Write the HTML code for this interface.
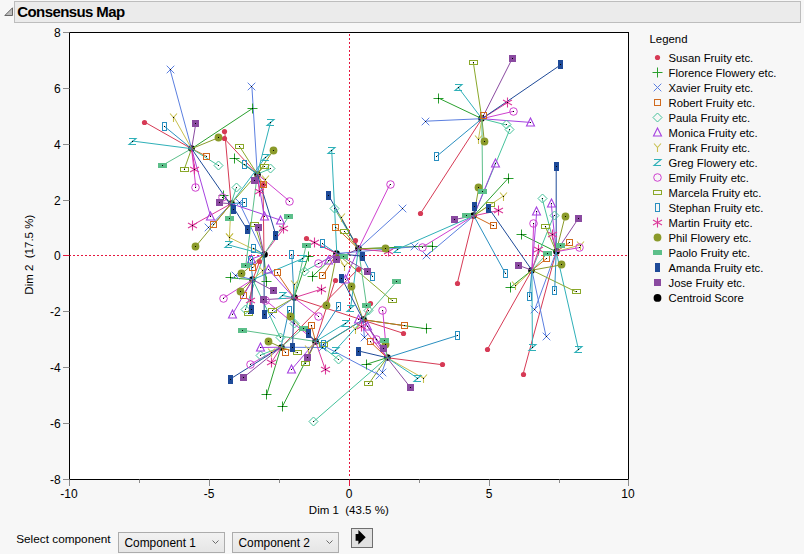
<!DOCTYPE html><html><head><meta charset="utf-8"><style>html,body{margin:0;padding:0;background:#f7f7f7;width:804px;height:554px;overflow:hidden}svg{display:block}text{font-family:"Liberation Sans",sans-serif}</style></head><body><svg width="804" height="554" viewBox="0 0 804 554"><rect width="804" height="554" fill="#f7f7f7"/><rect x="14.5" y="1.5" width="786" height="21" fill="#ebebeb" stroke="#bdbdbd" stroke-width="1"/><path d="M4.8 15.5L12.5 7.8V15.5Z" fill="#bdbdbd" stroke="#5a5a5a" stroke-width="0.9"/><text x="17.3" y="16.8" font-size="15" font-weight="bold" letter-spacing="-0.6" fill="#000">Consensus Map</text><rect x="69.5" y="32.5" width="559.0" height="447.0" fill="#fff"/><line x1="349.5" y1="34" x2="349.5" y2="478" stroke="#e5173f" stroke-width="1" stroke-dasharray="2,2"/><line x1="69" y1="255.5" x2="628" y2="255.5" stroke="#e5173f" stroke-width="1" stroke-dasharray="2,2"/><circle cx="191.5" cy="148.5" r="3.3" fill="#000"/><circle cx="257.5" cy="174.5" r="3.3" fill="#000"/><circle cx="231.5" cy="203.5" r="3.3" fill="#000"/><circle cx="264.5" cy="254.5" r="3.3" fill="#000"/><circle cx="252.5" cy="279.5" r="3.3" fill="#000"/><circle cx="294.5" cy="297.5" r="3.3" fill="#000"/><circle cx="336.5" cy="253.5" r="3.3" fill="#000"/><circle cx="358.5" cy="248.5" r="3.3" fill="#000"/><circle cx="363.5" cy="319.5" r="3.3" fill="#000"/><circle cx="315.5" cy="341.5" r="3.3" fill="#000"/><circle cx="281.5" cy="347.5" r="3.3" fill="#000"/><circle cx="387.5" cy="357.5" r="3.3" fill="#000"/><circle cx="481.5" cy="118.5" r="3.3" fill="#000"/><circle cx="473.5" cy="215.5" r="3.3" fill="#000"/><circle cx="531.5" cy="270.5" r="3.3" fill="#000"/><circle cx="556.5" cy="251.5" r="3.3" fill="#000"/><g><line x1="224.7" y1="138.9" x2="257.3" y2="174.1" stroke="#d63a55" stroke-width="1"/><line x1="224.7" y1="131.2" x2="231.1" y2="203.7" stroke="#d63a55" stroke-width="1"/><line x1="263.0" y1="184.2" x2="264.0" y2="254.4" stroke="#d63a55" stroke-width="1"/><line x1="403.0" y1="333.2" x2="294.0" y2="297.8" stroke="#d63a55" stroke-width="1"/><line x1="370.3" y1="303.1" x2="363.1" y2="319.7" stroke="#d63a55" stroke-width="1"/><line x1="335.2" y1="280.3" x2="315.6" y2="341.5" stroke="#d63a55" stroke-width="1"/><line x1="306.4" y1="238.8" x2="336.8" y2="253.5" stroke="#d63a55" stroke-width="1"/><line x1="358.1" y1="269.0" x2="281.0" y2="347.2" stroke="#d63a55" stroke-width="1"/><line x1="355.0" y1="240.5" x2="358.4" y2="248.8" stroke="#d63a55" stroke-width="1"/><line x1="259.7" y1="261.4" x2="252.7" y2="279.6" stroke="#d63a55" stroke-width="1"/><line x1="144.7" y1="122.1" x2="191.6" y2="148.7" stroke="#d63a55" stroke-width="1"/><line x1="442.9" y1="364.8" x2="387.0" y2="357.7" stroke="#d63a55" stroke-width="1"/><line x1="420.4" y1="213.6" x2="481.9" y2="118.7" stroke="#d63a55" stroke-width="1"/><line x1="457.3" y1="283.2" x2="473.8" y2="215.8" stroke="#d63a55" stroke-width="1"/><line x1="487.5" y1="349.2" x2="531.9" y2="270.2" stroke="#d63a55" stroke-width="1"/><line x1="523.1" y1="374.1" x2="556.2" y2="251.7" stroke="#d63a55" stroke-width="1"/><line x1="432.4" y1="246.0" x2="358.4" y2="248.8" stroke="#2aa02e" stroke-width="1"/><line x1="508.1" y1="178.4" x2="473.8" y2="215.8" stroke="#2aa02e" stroke-width="1"/><line x1="308.4" y1="256.0" x2="294.0" y2="297.8" stroke="#2aa02e" stroke-width="1"/><line x1="426.3" y1="328.8" x2="363.1" y2="319.7" stroke="#2aa02e" stroke-width="1"/><line x1="366.1" y1="364.4" x2="387.0" y2="357.7" stroke="#2aa02e" stroke-width="1"/><line x1="252.7" y1="108.3" x2="191.6" y2="148.7" stroke="#2aa02e" stroke-width="1"/><line x1="234.9" y1="158.2" x2="257.3" y2="174.1" stroke="#2aa02e" stroke-width="1"/><line x1="223.7" y1="195.6" x2="231.1" y2="203.7" stroke="#2aa02e" stroke-width="1"/><line x1="230.4" y1="277.9" x2="252.7" y2="279.6" stroke="#2aa02e" stroke-width="1"/><line x1="266.1" y1="281.1" x2="264.0" y2="254.4" stroke="#2aa02e" stroke-width="1"/><line x1="312.5" y1="276.3" x2="336.8" y2="253.5" stroke="#2aa02e" stroke-width="1"/><line x1="266.9" y1="394.2" x2="281.0" y2="347.2" stroke="#2aa02e" stroke-width="1"/><line x1="282.5" y1="406.4" x2="315.6" y2="341.5" stroke="#2aa02e" stroke-width="1"/><line x1="438.3" y1="98.0" x2="481.9" y2="118.7" stroke="#2aa02e" stroke-width="1"/><line x1="521.3" y1="234.4" x2="556.2" y2="251.7" stroke="#2aa02e" stroke-width="1"/><line x1="510.3" y1="287.5" x2="531.9" y2="270.2" stroke="#2aa02e" stroke-width="1"/><line x1="208.4" y1="227.6" x2="231.1" y2="203.7" stroke="#5b7fe0" stroke-width="1"/><line x1="239.2" y1="202.7" x2="264.0" y2="254.4" stroke="#5b7fe0" stroke-width="1"/><line x1="402.8" y1="208.5" x2="358.4" y2="248.8" stroke="#5b7fe0" stroke-width="1"/><line x1="379.4" y1="375.2" x2="315.6" y2="341.5" stroke="#5b7fe0" stroke-width="1"/><line x1="382.1" y1="372.0" x2="387.0" y2="357.7" stroke="#5b7fe0" stroke-width="1"/><line x1="364.3" y1="337.0" x2="363.1" y2="319.7" stroke="#5b7fe0" stroke-width="1"/><line x1="322.0" y1="347.5" x2="281.0" y2="347.2" stroke="#5b7fe0" stroke-width="1"/><line x1="170.0" y1="69.3" x2="191.6" y2="148.7" stroke="#5b7fe0" stroke-width="1"/><line x1="251.9" y1="86.7" x2="257.3" y2="174.1" stroke="#5b7fe0" stroke-width="1"/><line x1="235.6" y1="275.3" x2="252.7" y2="279.6" stroke="#5b7fe0" stroke-width="1"/><line x1="271.2" y1="314.0" x2="294.0" y2="297.8" stroke="#5b7fe0" stroke-width="1"/><line x1="414.7" y1="246.7" x2="336.8" y2="253.5" stroke="#5b7fe0" stroke-width="1"/><line x1="426.4" y1="255.8" x2="473.8" y2="215.8" stroke="#5b7fe0" stroke-width="1"/><line x1="425.5" y1="121.2" x2="481.9" y2="118.7" stroke="#5b7fe0" stroke-width="1"/><line x1="534.7" y1="309.8" x2="556.2" y2="251.7" stroke="#5b7fe0" stroke-width="1"/><line x1="546.1" y1="336.6" x2="531.9" y2="270.2" stroke="#5b7fe0" stroke-width="1"/><line x1="404.4" y1="325.7" x2="363.1" y2="319.7" stroke="#d06a1e" stroke-width="1"/><line x1="370.2" y1="341.8" x2="387.0" y2="357.7" stroke="#d06a1e" stroke-width="1"/><line x1="206.8" y1="156.4" x2="191.6" y2="148.7" stroke="#d06a1e" stroke-width="1"/><line x1="213.6" y1="224.6" x2="231.1" y2="203.7" stroke="#d06a1e" stroke-width="1"/><line x1="263.0" y1="184.2" x2="257.3" y2="174.1" stroke="#d06a1e" stroke-width="1"/><line x1="335.6" y1="227.0" x2="358.4" y2="248.8" stroke="#d06a1e" stroke-width="1"/><line x1="252.8" y1="267.9" x2="264.0" y2="254.4" stroke="#d06a1e" stroke-width="1"/><line x1="277.1" y1="272.8" x2="294.0" y2="297.8" stroke="#d06a1e" stroke-width="1"/><line x1="243.0" y1="295.1" x2="252.7" y2="279.6" stroke="#d06a1e" stroke-width="1"/><line x1="322.9" y1="275.7" x2="336.8" y2="253.5" stroke="#d06a1e" stroke-width="1"/><line x1="311.3" y1="325.4" x2="315.6" y2="341.5" stroke="#d06a1e" stroke-width="1"/><line x1="285.5" y1="352.2" x2="281.0" y2="347.2" stroke="#d06a1e" stroke-width="1"/><line x1="483.0" y1="115.2" x2="481.9" y2="118.7" stroke="#d06a1e" stroke-width="1"/><line x1="493.3" y1="225.8" x2="473.8" y2="215.8" stroke="#d06a1e" stroke-width="1"/><line x1="569.7" y1="242.5" x2="556.2" y2="251.7" stroke="#d06a1e" stroke-width="1"/><line x1="546.7" y1="258.4" x2="531.9" y2="270.2" stroke="#d06a1e" stroke-width="1"/><line x1="313.5" y1="421.7" x2="387.0" y2="357.7" stroke="#45c29b" stroke-width="1"/><line x1="338.6" y1="359.6" x2="315.6" y2="341.5" stroke="#45c29b" stroke-width="1"/><line x1="218.8" y1="165.7" x2="191.6" y2="148.7" stroke="#45c29b" stroke-width="1"/><line x1="270.1" y1="168.8" x2="257.3" y2="174.1" stroke="#45c29b" stroke-width="1"/><line x1="236.2" y1="187.9" x2="231.1" y2="203.7" stroke="#45c29b" stroke-width="1"/><line x1="334.7" y1="208.8" x2="358.4" y2="248.8" stroke="#45c29b" stroke-width="1"/><line x1="245.5" y1="309.4" x2="264.0" y2="254.4" stroke="#45c29b" stroke-width="1"/><line x1="280.4" y1="337.9" x2="252.7" y2="279.6" stroke="#45c29b" stroke-width="1"/><line x1="294.4" y1="323.3" x2="294.0" y2="297.8" stroke="#45c29b" stroke-width="1"/><line x1="260.3" y1="355.1" x2="281.0" y2="347.2" stroke="#45c29b" stroke-width="1"/><line x1="304.4" y1="271.3" x2="336.8" y2="253.5" stroke="#45c29b" stroke-width="1"/><line x1="368.6" y1="310.8" x2="363.1" y2="319.7" stroke="#45c29b" stroke-width="1"/><line x1="506.1" y1="124.9" x2="481.9" y2="118.7" stroke="#45c29b" stroke-width="1"/><line x1="509.9" y1="129.2" x2="473.8" y2="215.8" stroke="#45c29b" stroke-width="1"/><line x1="542.0" y1="198.0" x2="556.2" y2="251.7" stroke="#45c29b" stroke-width="1"/><line x1="554.0" y1="215.3" x2="531.9" y2="270.2" stroke="#45c29b" stroke-width="1"/><line x1="280.5" y1="220.1" x2="231.1" y2="203.7" stroke="#a642e0" stroke-width="1"/><line x1="210.7" y1="216.8" x2="191.6" y2="148.7" stroke="#a642e0" stroke-width="1"/><line x1="268.5" y1="269.5" x2="294.0" y2="297.8" stroke="#a642e0" stroke-width="1"/><line x1="264.2" y1="216.1" x2="257.3" y2="174.1" stroke="#a642e0" stroke-width="1"/><line x1="251.5" y1="259.0" x2="264.0" y2="254.4" stroke="#a642e0" stroke-width="1"/><line x1="328.7" y1="260.7" x2="336.8" y2="253.5" stroke="#a642e0" stroke-width="1"/><line x1="345.6" y1="279.0" x2="358.4" y2="248.8" stroke="#a642e0" stroke-width="1"/><line x1="232.6" y1="314.1" x2="252.7" y2="279.6" stroke="#a642e0" stroke-width="1"/><line x1="260.4" y1="347.5" x2="281.0" y2="347.2" stroke="#a642e0" stroke-width="1"/><line x1="291.9" y1="369.1" x2="315.6" y2="341.5" stroke="#a642e0" stroke-width="1"/><line x1="358.5" y1="319.4" x2="363.1" y2="319.7" stroke="#a642e0" stroke-width="1"/><line x1="367.9" y1="326.7" x2="387.0" y2="357.7" stroke="#a642e0" stroke-width="1"/><line x1="495.0" y1="163.7" x2="473.8" y2="215.8" stroke="#a642e0" stroke-width="1"/><line x1="530.2" y1="122.4" x2="481.9" y2="118.7" stroke="#a642e0" stroke-width="1"/><line x1="536.8" y1="211.0" x2="531.9" y2="270.2" stroke="#a642e0" stroke-width="1"/><line x1="551.2" y1="203.5" x2="556.2" y2="251.7" stroke="#a642e0" stroke-width="1"/><line x1="271.2" y1="352.0" x2="281.0" y2="347.2" stroke="#c8c050" stroke-width="1"/><line x1="229.6" y1="237.6" x2="264.0" y2="254.4" stroke="#c8c050" stroke-width="1"/><line x1="229.4" y1="237.0" x2="231.1" y2="203.7" stroke="#c8c050" stroke-width="1"/><line x1="173.9" y1="117.2" x2="191.6" y2="148.7" stroke="#c8c050" stroke-width="1"/><line x1="265.0" y1="179.8" x2="257.3" y2="174.1" stroke="#c8c050" stroke-width="1"/><line x1="262.7" y1="270.8" x2="252.7" y2="279.6" stroke="#c8c050" stroke-width="1"/><line x1="341.2" y1="217.2" x2="358.4" y2="248.8" stroke="#c8c050" stroke-width="1"/><line x1="344.1" y1="266.0" x2="336.8" y2="253.5" stroke="#c8c050" stroke-width="1"/><line x1="294.2" y1="284.8" x2="294.0" y2="297.8" stroke="#c8c050" stroke-width="1"/><line x1="308.7" y1="349.4" x2="315.6" y2="341.5" stroke="#c8c050" stroke-width="1"/><line x1="355.3" y1="329.5" x2="363.1" y2="319.7" stroke="#c8c050" stroke-width="1"/><line x1="423.4" y1="378.2" x2="387.0" y2="357.7" stroke="#c8c050" stroke-width="1"/><line x1="478.4" y1="139.3" x2="481.9" y2="118.7" stroke="#c8c050" stroke-width="1"/><line x1="503.4" y1="196.0" x2="473.8" y2="215.8" stroke="#c8c050" stroke-width="1"/><line x1="515.7" y1="285.9" x2="531.9" y2="270.2" stroke="#c8c050" stroke-width="1"/><line x1="580.0" y1="245.0" x2="556.2" y2="251.7" stroke="#c8c050" stroke-width="1"/><line x1="228.0" y1="244.8" x2="264.0" y2="254.4" stroke="#2fb0b8" stroke-width="1"/><line x1="335.2" y1="350.5" x2="363.1" y2="319.7" stroke="#2fb0b8" stroke-width="1"/><line x1="397.1" y1="249.4" x2="473.8" y2="215.8" stroke="#2fb0b8" stroke-width="1"/><line x1="282.0" y1="295.4" x2="294.0" y2="297.8" stroke="#2fb0b8" stroke-width="1"/><line x1="331.7" y1="150.0" x2="336.8" y2="253.5" stroke="#2fb0b8" stroke-width="1"/><line x1="132.2" y1="141.0" x2="191.6" y2="148.7" stroke="#2fb0b8" stroke-width="1"/><line x1="270.6" y1="122.1" x2="257.3" y2="174.1" stroke="#2fb0b8" stroke-width="1"/><line x1="265.2" y1="157.7" x2="231.1" y2="203.7" stroke="#2fb0b8" stroke-width="1"/><line x1="302.3" y1="258.7" x2="252.7" y2="279.6" stroke="#2fb0b8" stroke-width="1"/><line x1="350.6" y1="308.0" x2="358.4" y2="248.8" stroke="#2fb0b8" stroke-width="1"/><line x1="345.2" y1="323.4" x2="315.6" y2="341.5" stroke="#2fb0b8" stroke-width="1"/><line x1="417.8" y1="378.4" x2="387.0" y2="357.7" stroke="#2fb0b8" stroke-width="1"/><line x1="458.2" y1="87.4" x2="481.9" y2="118.7" stroke="#2fb0b8" stroke-width="1"/><line x1="532.4" y1="347.2" x2="531.9" y2="270.2" stroke="#2fb0b8" stroke-width="1"/><line x1="578.5" y1="349.6" x2="556.2" y2="251.7" stroke="#2fb0b8" stroke-width="1"/><line x1="318.2" y1="316.0" x2="294.0" y2="297.8" stroke="#cf40cf" stroke-width="1"/><line x1="382.7" y1="310.1" x2="387.0" y2="357.7" stroke="#cf40cf" stroke-width="1"/><line x1="376.3" y1="339.0" x2="363.1" y2="319.7" stroke="#cf40cf" stroke-width="1"/><line x1="265.8" y1="300.5" x2="315.6" y2="341.5" stroke="#cf40cf" stroke-width="1"/><line x1="195.8" y1="187.4" x2="191.6" y2="148.7" stroke="#cf40cf" stroke-width="1"/><line x1="222.8" y1="197.0" x2="231.1" y2="203.7" stroke="#cf40cf" stroke-width="1"/><line x1="289.4" y1="201.1" x2="257.3" y2="174.1" stroke="#cf40cf" stroke-width="1"/><line x1="390.0" y1="184.2" x2="358.4" y2="248.8" stroke="#cf40cf" stroke-width="1"/><line x1="318.8" y1="263.8" x2="336.8" y2="253.5" stroke="#cf40cf" stroke-width="1"/><line x1="223.1" y1="298.2" x2="252.7" y2="279.6" stroke="#cf40cf" stroke-width="1"/><line x1="250.3" y1="364.3" x2="281.0" y2="347.2" stroke="#cf40cf" stroke-width="1"/><line x1="422.4" y1="247.1" x2="473.8" y2="215.8" stroke="#cf40cf" stroke-width="1"/><line x1="513.6" y1="111.3" x2="481.9" y2="118.7" stroke="#cf40cf" stroke-width="1"/><line x1="533.7" y1="223.0" x2="531.9" y2="270.2" stroke="#cf40cf" stroke-width="1"/><line x1="579.2" y1="247.6" x2="556.2" y2="251.7" stroke="#cf40cf" stroke-width="1"/><line x1="239.7" y1="146.6" x2="257.3" y2="174.1" stroke="#8aa82a" stroke-width="1"/><line x1="264.3" y1="166.0" x2="231.1" y2="203.7" stroke="#8aa82a" stroke-width="1"/><line x1="392.2" y1="300.6" x2="336.8" y2="253.5" stroke="#8aa82a" stroke-width="1"/><line x1="184.3" y1="169.2" x2="191.6" y2="148.7" stroke="#8aa82a" stroke-width="1"/><line x1="254.7" y1="224.4" x2="264.0" y2="254.4" stroke="#8aa82a" stroke-width="1"/><line x1="344.8" y1="231.8" x2="358.4" y2="248.8" stroke="#8aa82a" stroke-width="1"/><line x1="248.9" y1="313.3" x2="252.7" y2="279.6" stroke="#8aa82a" stroke-width="1"/><line x1="272.7" y1="310.1" x2="294.0" y2="297.8" stroke="#8aa82a" stroke-width="1"/><line x1="297.3" y1="352.7" x2="281.0" y2="347.2" stroke="#8aa82a" stroke-width="1"/><line x1="305.5" y1="363.0" x2="315.6" y2="341.5" stroke="#8aa82a" stroke-width="1"/><line x1="323.2" y1="344.6" x2="363.1" y2="319.7" stroke="#8aa82a" stroke-width="1"/><line x1="368.8" y1="383.8" x2="387.0" y2="357.7" stroke="#8aa82a" stroke-width="1"/><line x1="473.3" y1="62.4" x2="481.9" y2="118.7" stroke="#8aa82a" stroke-width="1"/><line x1="490.6" y1="204.2" x2="473.8" y2="215.8" stroke="#8aa82a" stroke-width="1"/><line x1="545.3" y1="226.5" x2="556.2" y2="251.7" stroke="#8aa82a" stroke-width="1"/><line x1="576.1" y1="291.9" x2="531.9" y2="270.2" stroke="#8aa82a" stroke-width="1"/><line x1="291.8" y1="254.2" x2="294.0" y2="297.8" stroke="#2a8fc0" stroke-width="1"/><line x1="338.6" y1="306.2" x2="315.6" y2="341.5" stroke="#2a8fc0" stroke-width="1"/><line x1="164.6" y1="126.5" x2="191.6" y2="148.7" stroke="#2a8fc0" stroke-width="1"/><line x1="244.9" y1="164.6" x2="257.3" y2="174.1" stroke="#2a8fc0" stroke-width="1"/><line x1="244.2" y1="202.5" x2="231.1" y2="203.7" stroke="#2a8fc0" stroke-width="1"/><line x1="253.3" y1="248.0" x2="264.0" y2="254.4" stroke="#2a8fc0" stroke-width="1"/><line x1="322.4" y1="243.9" x2="336.8" y2="253.5" stroke="#2a8fc0" stroke-width="1"/><line x1="372.7" y1="276.8" x2="358.4" y2="248.8" stroke="#2a8fc0" stroke-width="1"/><line x1="289.0" y1="310.0" x2="281.0" y2="347.2" stroke="#2a8fc0" stroke-width="1"/><line x1="323.3" y1="344.0" x2="363.1" y2="319.7" stroke="#2a8fc0" stroke-width="1"/><line x1="457.8" y1="335.4" x2="387.0" y2="357.7" stroke="#2a8fc0" stroke-width="1"/><line x1="436.8" y1="156.2" x2="481.9" y2="118.7" stroke="#2a8fc0" stroke-width="1"/><line x1="505.4" y1="273.5" x2="473.8" y2="215.8" stroke="#2a8fc0" stroke-width="1"/><line x1="529.5" y1="296.0" x2="531.9" y2="270.2" stroke="#2a8fc0" stroke-width="1"/><line x1="554.7" y1="290.0" x2="556.2" y2="251.7" stroke="#2a8fc0" stroke-width="1"/><line x1="250.7" y1="260.4" x2="252.7" y2="279.6" stroke="#2a8fc0" stroke-width="1"/><line x1="361.7" y1="326.3" x2="387.0" y2="357.7" stroke="#db3a9a" stroke-width="1"/><line x1="194.9" y1="169.1" x2="191.6" y2="148.7" stroke="#db3a9a" stroke-width="1"/><line x1="259.3" y1="191.1" x2="257.3" y2="174.1" stroke="#db3a9a" stroke-width="1"/><line x1="192.5" y1="225.2" x2="231.1" y2="203.7" stroke="#db3a9a" stroke-width="1"/><line x1="283.8" y1="228.4" x2="264.0" y2="254.4" stroke="#db3a9a" stroke-width="1"/><line x1="314.5" y1="242.9" x2="336.8" y2="253.5" stroke="#db3a9a" stroke-width="1"/><line x1="388.5" y1="251.9" x2="358.4" y2="248.8" stroke="#db3a9a" stroke-width="1"/><line x1="250.2" y1="300.6" x2="252.7" y2="279.6" stroke="#db3a9a" stroke-width="1"/><line x1="271.3" y1="362.7" x2="281.0" y2="347.2" stroke="#db3a9a" stroke-width="1"/><line x1="321.5" y1="289.1" x2="294.0" y2="297.8" stroke="#db3a9a" stroke-width="1"/><line x1="325.2" y1="369.3" x2="315.6" y2="341.5" stroke="#db3a9a" stroke-width="1"/><line x1="507.9" y1="102.4" x2="481.9" y2="118.7" stroke="#db3a9a" stroke-width="1"/><line x1="498.7" y1="210.5" x2="473.8" y2="215.8" stroke="#db3a9a" stroke-width="1"/><line x1="552.1" y1="234.1" x2="556.2" y2="251.7" stroke="#db3a9a" stroke-width="1"/><line x1="538.6" y1="249.9" x2="531.9" y2="270.2" stroke="#db3a9a" stroke-width="1"/><line x1="326.5" y1="305.1" x2="336.8" y2="253.5" stroke="#8a9a2a" stroke-width="1"/><line x1="290.4" y1="316.9" x2="315.6" y2="341.5" stroke="#8a9a2a" stroke-width="1"/><line x1="218.7" y1="137.6" x2="191.6" y2="148.7" stroke="#8a9a2a" stroke-width="1"/><line x1="273.2" y1="150.6" x2="257.3" y2="174.1" stroke="#8a9a2a" stroke-width="1"/><line x1="195.4" y1="246.8" x2="231.1" y2="203.7" stroke="#8a9a2a" stroke-width="1"/><line x1="241.8" y1="273.7" x2="264.0" y2="254.4" stroke="#8a9a2a" stroke-width="1"/><line x1="240.2" y1="291.5" x2="252.7" y2="279.6" stroke="#8a9a2a" stroke-width="1"/><line x1="268.2" y1="341.4" x2="281.0" y2="347.2" stroke="#8a9a2a" stroke-width="1"/><line x1="351.7" y1="286.8" x2="363.1" y2="319.7" stroke="#8a9a2a" stroke-width="1"/><line x1="385.5" y1="248.0" x2="358.4" y2="248.8" stroke="#8a9a2a" stroke-width="1"/><line x1="484.3" y1="141.4" x2="481.9" y2="118.7" stroke="#8a9a2a" stroke-width="1"/><line x1="478.8" y1="187.4" x2="473.8" y2="215.8" stroke="#8a9a2a" stroke-width="1"/><line x1="565.1" y1="216.2" x2="556.2" y2="251.7" stroke="#8a9a2a" stroke-width="1"/><line x1="561.6" y1="264.8" x2="531.9" y2="270.2" stroke="#8a9a2a" stroke-width="1"/><line x1="385.8" y1="344.7" x2="387.0" y2="357.7" stroke="#8a9a2a" stroke-width="1"/><line x1="288.9" y1="216.2" x2="264.0" y2="254.4" stroke="#5cbf8a" stroke-width="1"/><line x1="245.8" y1="265.4" x2="257.3" y2="174.1" stroke="#5cbf8a" stroke-width="1"/><line x1="396.4" y1="281.8" x2="363.1" y2="319.7" stroke="#5cbf8a" stroke-width="1"/><line x1="306.0" y1="245.8" x2="294.0" y2="297.8" stroke="#5cbf8a" stroke-width="1"/><line x1="242.8" y1="330.3" x2="315.6" y2="341.5" stroke="#5cbf8a" stroke-width="1"/><line x1="303.4" y1="328.1" x2="281.0" y2="347.2" stroke="#5cbf8a" stroke-width="1"/><line x1="162.1" y1="165.5" x2="191.6" y2="148.7" stroke="#5cbf8a" stroke-width="1"/><line x1="229.8" y1="218.9" x2="231.1" y2="203.7" stroke="#5cbf8a" stroke-width="1"/><line x1="366.5" y1="305.0" x2="358.4" y2="248.8" stroke="#5cbf8a" stroke-width="1"/><line x1="384.2" y1="340.7" x2="387.0" y2="357.7" stroke="#5cbf8a" stroke-width="1"/><line x1="482.6" y1="191.0" x2="481.9" y2="118.7" stroke="#5cbf8a" stroke-width="1"/><line x1="466.8" y1="215.0" x2="473.8" y2="215.8" stroke="#5cbf8a" stroke-width="1"/><line x1="560.9" y1="245.9" x2="556.2" y2="251.7" stroke="#5cbf8a" stroke-width="1"/><line x1="547.4" y1="253.3" x2="531.9" y2="270.2" stroke="#5cbf8a" stroke-width="1"/><line x1="343.0" y1="256.6" x2="336.8" y2="253.5" stroke="#5cbf8a" stroke-width="1"/><line x1="328.7" y1="195.6" x2="358.4" y2="248.8" stroke="#1e4a98" stroke-width="1"/><line x1="275.9" y1="235.0" x2="257.3" y2="174.1" stroke="#1e4a98" stroke-width="1"/><line x1="362.3" y1="256.2" x2="336.8" y2="253.5" stroke="#1e4a98" stroke-width="1"/><line x1="341.6" y1="278.0" x2="363.1" y2="319.7" stroke="#1e4a98" stroke-width="1"/><line x1="292.6" y1="347.6" x2="294.0" y2="297.8" stroke="#1e4a98" stroke-width="1"/><line x1="308.3" y1="333.7" x2="315.6" y2="341.5" stroke="#1e4a98" stroke-width="1"/><line x1="233.8" y1="209.5" x2="191.6" y2="148.7" stroke="#1e4a98" stroke-width="1"/><line x1="247.4" y1="229.8" x2="231.1" y2="203.7" stroke="#1e4a98" stroke-width="1"/><line x1="251.6" y1="309.6" x2="252.7" y2="279.6" stroke="#1e4a98" stroke-width="1"/><line x1="264.2" y1="314.8" x2="264.0" y2="254.4" stroke="#1e4a98" stroke-width="1"/><line x1="230.0" y1="379.2" x2="281.0" y2="347.2" stroke="#1e4a98" stroke-width="1"/><line x1="358.7" y1="351.0" x2="387.0" y2="357.7" stroke="#1e4a98" stroke-width="1"/><line x1="560.6" y1="64.9" x2="481.9" y2="118.7" stroke="#1e4a98" stroke-width="1"/><line x1="474.5" y1="206.0" x2="473.8" y2="215.8" stroke="#1e4a98" stroke-width="1"/><line x1="488.8" y1="208.3" x2="531.9" y2="270.2" stroke="#1e4a98" stroke-width="1"/><line x1="556.2" y1="166.4" x2="556.2" y2="251.7" stroke="#1e4a98" stroke-width="1"/><line x1="367.2" y1="271.5" x2="336.8" y2="253.5" stroke="#8a4aa0" stroke-width="1"/><line x1="273.8" y1="290.9" x2="252.7" y2="279.6" stroke="#8a4aa0" stroke-width="1"/><line x1="263.7" y1="299.7" x2="294.0" y2="297.8" stroke="#8a4aa0" stroke-width="1"/><line x1="195.9" y1="123.0" x2="191.6" y2="148.7" stroke="#8a4aa0" stroke-width="1"/><line x1="254.0" y1="180.3" x2="257.3" y2="174.1" stroke="#8a4aa0" stroke-width="1"/><line x1="219.3" y1="202.8" x2="231.1" y2="203.7" stroke="#8a4aa0" stroke-width="1"/><line x1="258.2" y1="227.8" x2="264.0" y2="254.4" stroke="#8a4aa0" stroke-width="1"/><line x1="336.5" y1="259.0" x2="358.4" y2="248.8" stroke="#8a4aa0" stroke-width="1"/><line x1="307.2" y1="357.1" x2="315.6" y2="341.5" stroke="#8a4aa0" stroke-width="1"/><line x1="243.0" y1="377.9" x2="281.0" y2="347.2" stroke="#8a4aa0" stroke-width="1"/><line x1="383.2" y1="348.6" x2="363.1" y2="319.7" stroke="#8a4aa0" stroke-width="1"/><line x1="410.3" y1="387.3" x2="387.0" y2="357.7" stroke="#8a4aa0" stroke-width="1"/><line x1="512.3" y1="58.5" x2="481.9" y2="118.7" stroke="#8a4aa0" stroke-width="1"/><line x1="454.5" y1="219.5" x2="473.8" y2="215.8" stroke="#8a4aa0" stroke-width="1"/><line x1="578.2" y1="218.8" x2="556.2" y2="251.7" stroke="#8a4aa0" stroke-width="1"/><line x1="518.0" y1="265.2" x2="531.9" y2="270.2" stroke="#8a4aa0" stroke-width="1"/></g><g><circle cx="224.5" cy="138.5" r="2.6" fill="#d63a55"/><circle cx="224.5" cy="131.5" r="2.6" fill="#d63a55"/><circle cx="263.5" cy="184.5" r="2.6" fill="#d63a55"/><circle cx="403.5" cy="333.5" r="2.6" fill="#d63a55"/><circle cx="370.5" cy="303.5" r="2.6" fill="#d63a55"/><circle cx="335.5" cy="280.5" r="2.6" fill="#d63a55"/><circle cx="306.5" cy="238.5" r="2.6" fill="#d63a55"/><circle cx="358.5" cy="269.5" r="2.6" fill="#d63a55"/><circle cx="355.5" cy="240.5" r="2.6" fill="#d63a55"/><circle cx="259.5" cy="261.5" r="2.6" fill="#d63a55"/><circle cx="144.5" cy="122.5" r="2.6" fill="#d63a55"/><circle cx="442.5" cy="364.5" r="2.6" fill="#d63a55"/><circle cx="420.5" cy="213.5" r="2.6" fill="#d63a55"/><circle cx="457.5" cy="283.5" r="2.6" fill="#d63a55"/><circle cx="487.5" cy="349.5" r="2.6" fill="#d63a55"/><circle cx="523.5" cy="374.5" r="2.6" fill="#d63a55"/><path d="M427.5 246.5H437.5M432.5 241.5V251.5" stroke="#2aa02e" stroke-width="1" fill="none"/><rect x="432.0" y="246.0" width="1" height="1" fill="#000"/><path d="M503.5 178.5H513.5M508.5 173.5V183.5" stroke="#2aa02e" stroke-width="1" fill="none"/><rect x="508.0" y="178.0" width="1" height="1" fill="#000"/><path d="M303.5 256.5H313.5M308.5 251.5V261.5" stroke="#2aa02e" stroke-width="1" fill="none"/><rect x="308.0" y="256.0" width="1" height="1" fill="#000"/><path d="M421.5 328.5H431.5M426.5 323.5V333.5" stroke="#2aa02e" stroke-width="1" fill="none"/><rect x="426.0" y="328.0" width="1" height="1" fill="#000"/><path d="M361.5 364.5H371.5M366.5 359.5V369.5" stroke="#2aa02e" stroke-width="1" fill="none"/><rect x="366.0" y="364.0" width="1" height="1" fill="#000"/><path d="M247.5 108.5H257.5M252.5 103.5V113.5" stroke="#2aa02e" stroke-width="1" fill="none"/><rect x="252.0" y="108.0" width="1" height="1" fill="#000"/><path d="M229.5 158.5H239.5M234.5 153.5V163.5" stroke="#2aa02e" stroke-width="1" fill="none"/><rect x="234.0" y="158.0" width="1" height="1" fill="#000"/><path d="M218.5 195.5H228.5M223.5 190.5V200.5" stroke="#2aa02e" stroke-width="1" fill="none"/><rect x="223.0" y="195.0" width="1" height="1" fill="#000"/><path d="M225.5 277.5H235.5M230.5 272.5V282.5" stroke="#2aa02e" stroke-width="1" fill="none"/><rect x="230.0" y="277.0" width="1" height="1" fill="#000"/><path d="M261.5 281.5H271.5M266.5 276.5V286.5" stroke="#2aa02e" stroke-width="1" fill="none"/><rect x="266.0" y="281.0" width="1" height="1" fill="#000"/><path d="M307.5 276.5H317.5M312.5 271.5V281.5" stroke="#2aa02e" stroke-width="1" fill="none"/><rect x="312.0" y="276.0" width="1" height="1" fill="#000"/><path d="M261.5 394.5H271.5M266.5 389.5V399.5" stroke="#2aa02e" stroke-width="1" fill="none"/><rect x="266.0" y="394.0" width="1" height="1" fill="#000"/><path d="M277.5 406.5H287.5M282.5 401.5V411.5" stroke="#2aa02e" stroke-width="1" fill="none"/><rect x="282.0" y="406.0" width="1" height="1" fill="#000"/><path d="M433.5 98.5H443.5M438.5 93.5V103.5" stroke="#2aa02e" stroke-width="1" fill="none"/><rect x="438.0" y="98.0" width="1" height="1" fill="#000"/><path d="M516.5 234.5H526.5M521.5 229.5V239.5" stroke="#2aa02e" stroke-width="1" fill="none"/><rect x="521.0" y="234.0" width="1" height="1" fill="#000"/><path d="M505.5 287.5H515.5M510.5 282.5V292.5" stroke="#2aa02e" stroke-width="1" fill="none"/><rect x="510.0" y="287.0" width="1" height="1" fill="#000"/><path d="M204.7 223.7L212.3 231.3M212.3 223.7L204.7 231.3" stroke="#5b7fe0" stroke-width="1" fill="none"/><rect x="208.0" y="227.0" width="1" height="1" fill="#000"/><path d="M235.7 198.7L243.3 206.3M243.3 198.7L235.7 206.3" stroke="#5b7fe0" stroke-width="1" fill="none"/><rect x="239.0" y="202.0" width="1" height="1" fill="#000"/><path d="M398.7 204.7L406.3 212.3M406.3 204.7L398.7 212.3" stroke="#5b7fe0" stroke-width="1" fill="none"/><rect x="402.0" y="208.0" width="1" height="1" fill="#000"/><path d="M375.7 371.7L383.3 379.3M383.3 371.7L375.7 379.3" stroke="#5b7fe0" stroke-width="1" fill="none"/><rect x="379.0" y="375.0" width="1" height="1" fill="#000"/><path d="M378.7 368.7L386.3 376.3M386.3 368.7L378.7 376.3" stroke="#5b7fe0" stroke-width="1" fill="none"/><rect x="382.0" y="372.0" width="1" height="1" fill="#000"/><path d="M360.7 333.7L368.3 341.3M368.3 333.7L360.7 341.3" stroke="#5b7fe0" stroke-width="1" fill="none"/><rect x="364.0" y="337.0" width="1" height="1" fill="#000"/><path d="M318.7 343.7L326.3 351.3M326.3 343.7L318.7 351.3" stroke="#5b7fe0" stroke-width="1" fill="none"/><rect x="322.0" y="347.0" width="1" height="1" fill="#000"/><path d="M166.7 65.7L174.3 73.3M174.3 65.7L166.7 73.3" stroke="#5b7fe0" stroke-width="1" fill="none"/><rect x="170.0" y="69.0" width="1" height="1" fill="#000"/><path d="M247.7 82.7L255.3 90.3M255.3 82.7L247.7 90.3" stroke="#5b7fe0" stroke-width="1" fill="none"/><rect x="251.0" y="86.0" width="1" height="1" fill="#000"/><path d="M231.7 271.7L239.3 279.3M239.3 271.7L231.7 279.3" stroke="#5b7fe0" stroke-width="1" fill="none"/><rect x="235.0" y="275.0" width="1" height="1" fill="#000"/><path d="M267.7 310.7L275.3 318.3M275.3 310.7L267.7 318.3" stroke="#5b7fe0" stroke-width="1" fill="none"/><rect x="271.0" y="314.0" width="1" height="1" fill="#000"/><path d="M410.7 242.7L418.3 250.3M418.3 242.7L410.7 250.3" stroke="#5b7fe0" stroke-width="1" fill="none"/><rect x="414.0" y="246.0" width="1" height="1" fill="#000"/><path d="M422.7 251.7L430.3 259.3M430.3 251.7L422.7 259.3" stroke="#5b7fe0" stroke-width="1" fill="none"/><rect x="426.0" y="255.0" width="1" height="1" fill="#000"/><path d="M421.7 117.7L429.3 125.3M429.3 117.7L421.7 125.3" stroke="#5b7fe0" stroke-width="1" fill="none"/><rect x="425.0" y="121.0" width="1" height="1" fill="#000"/><path d="M530.7 305.7L538.3 313.3M538.3 305.7L530.7 313.3" stroke="#5b7fe0" stroke-width="1" fill="none"/><rect x="534.0" y="309.0" width="1" height="1" fill="#000"/><path d="M542.7 332.7L550.3 340.3M550.3 332.7L542.7 340.3" stroke="#5b7fe0" stroke-width="1" fill="none"/><rect x="546.0" y="336.0" width="1" height="1" fill="#000"/><rect x="401.5" y="322.5" width="6" height="6" stroke="#d06a1e" stroke-width="1" fill="none"/><rect x="404.0" y="325.0" width="1" height="1" fill="#000"/><rect x="367.5" y="338.5" width="6" height="6" stroke="#d06a1e" stroke-width="1" fill="none"/><rect x="370.0" y="341.0" width="1" height="1" fill="#000"/><rect x="203.5" y="153.5" width="6" height="6" stroke="#d06a1e" stroke-width="1" fill="none"/><rect x="206.0" y="156.0" width="1" height="1" fill="#000"/><rect x="210.5" y="221.5" width="6" height="6" stroke="#d06a1e" stroke-width="1" fill="none"/><rect x="213.0" y="224.0" width="1" height="1" fill="#000"/><rect x="260.5" y="181.5" width="6" height="6" stroke="#d06a1e" stroke-width="1" fill="none"/><rect x="263.0" y="184.0" width="1" height="1" fill="#000"/><rect x="332.5" y="224.5" width="6" height="6" stroke="#d06a1e" stroke-width="1" fill="none"/><rect x="335.0" y="227.0" width="1" height="1" fill="#000"/><rect x="249.5" y="264.5" width="6" height="6" stroke="#d06a1e" stroke-width="1" fill="none"/><rect x="252.0" y="267.0" width="1" height="1" fill="#000"/><rect x="274.5" y="269.5" width="6" height="6" stroke="#d06a1e" stroke-width="1" fill="none"/><rect x="277.0" y="272.0" width="1" height="1" fill="#000"/><rect x="240.5" y="292.5" width="6" height="6" stroke="#d06a1e" stroke-width="1" fill="none"/><rect x="243.0" y="295.0" width="1" height="1" fill="#000"/><rect x="319.5" y="272.5" width="6" height="6" stroke="#d06a1e" stroke-width="1" fill="none"/><rect x="322.0" y="275.0" width="1" height="1" fill="#000"/><rect x="308.5" y="322.5" width="6" height="6" stroke="#d06a1e" stroke-width="1" fill="none"/><rect x="311.0" y="325.0" width="1" height="1" fill="#000"/><rect x="282.5" y="349.5" width="6" height="6" stroke="#d06a1e" stroke-width="1" fill="none"/><rect x="285.0" y="352.0" width="1" height="1" fill="#000"/><rect x="480.5" y="112.5" width="6" height="6" stroke="#d06a1e" stroke-width="1" fill="none"/><rect x="483.0" y="115.0" width="1" height="1" fill="#000"/><rect x="490.5" y="222.5" width="6" height="6" stroke="#d06a1e" stroke-width="1" fill="none"/><rect x="493.0" y="225.0" width="1" height="1" fill="#000"/><rect x="566.5" y="239.5" width="6" height="6" stroke="#d06a1e" stroke-width="1" fill="none"/><rect x="569.0" y="242.0" width="1" height="1" fill="#000"/><rect x="543.5" y="255.5" width="6" height="6" stroke="#d06a1e" stroke-width="1" fill="none"/><rect x="546.0" y="258.0" width="1" height="1" fill="#000"/><path d="M313.5 417.0L318.0 421.5L313.5 426.0L309.0 421.5Z" stroke="#45c29b" stroke-width="1" fill="none"/><rect x="313.0" y="421.0" width="1" height="1" fill="#000"/><path d="M338.5 355.0L343.0 359.5L338.5 364.0L334.0 359.5Z" stroke="#45c29b" stroke-width="1" fill="none"/><rect x="338.0" y="359.0" width="1" height="1" fill="#000"/><path d="M218.5 161.0L223.0 165.5L218.5 170.0L214.0 165.5Z" stroke="#45c29b" stroke-width="1" fill="none"/><rect x="218.0" y="165.0" width="1" height="1" fill="#000"/><path d="M270.5 164.0L275.0 168.5L270.5 173.0L266.0 168.5Z" stroke="#45c29b" stroke-width="1" fill="none"/><rect x="270.0" y="168.0" width="1" height="1" fill="#000"/><path d="M236.5 183.0L241.0 187.5L236.5 192.0L232.0 187.5Z" stroke="#45c29b" stroke-width="1" fill="none"/><rect x="236.0" y="187.0" width="1" height="1" fill="#000"/><path d="M334.5 204.0L339.0 208.5L334.5 213.0L330.0 208.5Z" stroke="#45c29b" stroke-width="1" fill="none"/><rect x="334.0" y="208.0" width="1" height="1" fill="#000"/><path d="M245.5 305.0L250.0 309.5L245.5 314.0L241.0 309.5Z" stroke="#45c29b" stroke-width="1" fill="none"/><rect x="245.0" y="309.0" width="1" height="1" fill="#000"/><path d="M280.5 333.0L285.0 337.5L280.5 342.0L276.0 337.5Z" stroke="#45c29b" stroke-width="1" fill="none"/><rect x="280.0" y="337.0" width="1" height="1" fill="#000"/><path d="M294.5 319.0L299.0 323.5L294.5 328.0L290.0 323.5Z" stroke="#45c29b" stroke-width="1" fill="none"/><rect x="294.0" y="323.0" width="1" height="1" fill="#000"/><path d="M260.5 351.0L265.0 355.5L260.5 360.0L256.0 355.5Z" stroke="#45c29b" stroke-width="1" fill="none"/><rect x="260.0" y="355.0" width="1" height="1" fill="#000"/><path d="M304.5 267.0L309.0 271.5L304.5 276.0L300.0 271.5Z" stroke="#45c29b" stroke-width="1" fill="none"/><rect x="304.0" y="271.0" width="1" height="1" fill="#000"/><path d="M368.5 306.0L373.0 310.5L368.5 315.0L364.0 310.5Z" stroke="#45c29b" stroke-width="1" fill="none"/><rect x="368.0" y="310.0" width="1" height="1" fill="#000"/><path d="M506.5 120.0L511.0 124.5L506.5 129.0L502.0 124.5Z" stroke="#45c29b" stroke-width="1" fill="none"/><rect x="506.0" y="124.0" width="1" height="1" fill="#000"/><path d="M509.5 125.0L514.0 129.5L509.5 134.0L505.0 129.5Z" stroke="#45c29b" stroke-width="1" fill="none"/><rect x="509.0" y="129.0" width="1" height="1" fill="#000"/><path d="M542.5 194.0L547.0 198.5L542.5 203.0L538.0 198.5Z" stroke="#45c29b" stroke-width="1" fill="none"/><rect x="542.0" y="198.0" width="1" height="1" fill="#000"/><path d="M554.5 211.0L559.0 215.5L554.5 220.0L550.0 215.5Z" stroke="#45c29b" stroke-width="1" fill="none"/><rect x="554.0" y="215.0" width="1" height="1" fill="#000"/><path d="M280.5 216.0L284.5 224.0L276.5 224.0Z" stroke="#a642e0" stroke-width="1.1" fill="none"/><rect x="280.0" y="220.0" width="1" height="1" fill="#000"/><path d="M210.5 212.0L214.5 220.0L206.5 220.0Z" stroke="#a642e0" stroke-width="1.1" fill="none"/><rect x="210.0" y="216.0" width="1" height="1" fill="#000"/><path d="M268.5 265.0L272.5 273.0L264.5 273.0Z" stroke="#a642e0" stroke-width="1.1" fill="none"/><rect x="268.0" y="269.0" width="1" height="1" fill="#000"/><path d="M264.5 212.0L268.5 220.0L260.5 220.0Z" stroke="#a642e0" stroke-width="1.1" fill="none"/><rect x="264.0" y="216.0" width="1" height="1" fill="#000"/><path d="M251.5 255.0L255.5 263.0L247.5 263.0Z" stroke="#a642e0" stroke-width="1.1" fill="none"/><rect x="251.0" y="259.0" width="1" height="1" fill="#000"/><path d="M328.5 256.0L332.5 264.0L324.5 264.0Z" stroke="#a642e0" stroke-width="1.1" fill="none"/><rect x="328.0" y="260.0" width="1" height="1" fill="#000"/><path d="M345.5 275.0L349.5 283.0L341.5 283.0Z" stroke="#a642e0" stroke-width="1.1" fill="none"/><rect x="345.0" y="279.0" width="1" height="1" fill="#000"/><path d="M232.5 310.0L236.5 318.0L228.5 318.0Z" stroke="#a642e0" stroke-width="1.1" fill="none"/><rect x="232.0" y="314.0" width="1" height="1" fill="#000"/><path d="M260.5 343.0L264.5 351.0L256.5 351.0Z" stroke="#a642e0" stroke-width="1.1" fill="none"/><rect x="260.0" y="347.0" width="1" height="1" fill="#000"/><path d="M291.5 365.0L295.5 373.0L287.5 373.0Z" stroke="#a642e0" stroke-width="1.1" fill="none"/><rect x="291.0" y="369.0" width="1" height="1" fill="#000"/><path d="M358.5 315.0L362.5 323.0L354.5 323.0Z" stroke="#a642e0" stroke-width="1.1" fill="none"/><rect x="358.0" y="319.0" width="1" height="1" fill="#000"/><path d="M367.5 322.0L371.5 330.0L363.5 330.0Z" stroke="#a642e0" stroke-width="1.1" fill="none"/><rect x="367.0" y="326.0" width="1" height="1" fill="#000"/><path d="M495.5 159.0L499.5 167.0L491.5 167.0Z" stroke="#a642e0" stroke-width="1.1" fill="none"/><rect x="495.0" y="163.0" width="1" height="1" fill="#000"/><path d="M530.5 118.0L534.5 126.0L526.5 126.0Z" stroke="#a642e0" stroke-width="1.1" fill="none"/><rect x="530.0" y="122.0" width="1" height="1" fill="#000"/><path d="M536.5 207.0L540.5 215.0L532.5 215.0Z" stroke="#a642e0" stroke-width="1.1" fill="none"/><rect x="536.0" y="211.0" width="1" height="1" fill="#000"/><path d="M551.5 199.0L555.5 207.0L547.5 207.0Z" stroke="#a642e0" stroke-width="1.1" fill="none"/><rect x="551.0" y="203.0" width="1" height="1" fill="#000"/><path d="M268.0 348.5L271.5 352.5L275.0 348.5M271.5 352.5V357.0" stroke="#c8c050" stroke-width="1.1" fill="none"/><rect x="271.0" y="352.0" width="1" height="1" fill="#000"/><path d="M226.0 233.5L229.5 237.5L233.0 233.5M229.5 237.5V242.0" stroke="#c8c050" stroke-width="1.1" fill="none"/><rect x="229.0" y="237.0" width="1" height="1" fill="#000"/><path d="M226.0 233.5L229.5 237.5L233.0 233.5M229.5 237.5V242.0" stroke="#c8c050" stroke-width="1.1" fill="none"/><rect x="229.0" y="237.0" width="1" height="1" fill="#000"/><path d="M170.0 113.5L173.5 117.5L177.0 113.5M173.5 117.5V122.0" stroke="#c8c050" stroke-width="1.1" fill="none"/><rect x="173.0" y="117.0" width="1" height="1" fill="#000"/><path d="M262.0 175.5L265.5 179.5L269.0 175.5M265.5 179.5V184.0" stroke="#c8c050" stroke-width="1.1" fill="none"/><rect x="265.0" y="179.0" width="1" height="1" fill="#000"/><path d="M259.0 266.5L262.5 270.5L266.0 266.5M262.5 270.5V275.0" stroke="#c8c050" stroke-width="1.1" fill="none"/><rect x="262.0" y="270.0" width="1" height="1" fill="#000"/><path d="M338.0 213.5L341.5 217.5L345.0 213.5M341.5 217.5V222.0" stroke="#c8c050" stroke-width="1.1" fill="none"/><rect x="341.0" y="217.0" width="1" height="1" fill="#000"/><path d="M341.0 262.5L344.5 266.5L348.0 262.5M344.5 266.5V271.0" stroke="#c8c050" stroke-width="1.1" fill="none"/><rect x="344.0" y="266.0" width="1" height="1" fill="#000"/><path d="M291.0 280.5L294.5 284.5L298.0 280.5M294.5 284.5V289.0" stroke="#c8c050" stroke-width="1.1" fill="none"/><rect x="294.0" y="284.0" width="1" height="1" fill="#000"/><path d="M305.0 345.5L308.5 349.5L312.0 345.5M308.5 349.5V354.0" stroke="#c8c050" stroke-width="1.1" fill="none"/><rect x="308.0" y="349.0" width="1" height="1" fill="#000"/><path d="M352.0 325.5L355.5 329.5L359.0 325.5M355.5 329.5V334.0" stroke="#c8c050" stroke-width="1.1" fill="none"/><rect x="355.0" y="329.0" width="1" height="1" fill="#000"/><path d="M420.0 374.5L423.5 378.5L427.0 374.5M423.5 378.5V383.0" stroke="#c8c050" stroke-width="1.1" fill="none"/><rect x="423.0" y="378.0" width="1" height="1" fill="#000"/><path d="M475.0 135.5L478.5 139.5L482.0 135.5M478.5 139.5V144.0" stroke="#c8c050" stroke-width="1.1" fill="none"/><rect x="478.0" y="139.0" width="1" height="1" fill="#000"/><path d="M500.0 192.5L503.5 196.5L507.0 192.5M503.5 196.5V201.0" stroke="#c8c050" stroke-width="1.1" fill="none"/><rect x="503.0" y="196.0" width="1" height="1" fill="#000"/><path d="M512.0 281.5L515.5 285.5L519.0 281.5M515.5 285.5V290.0" stroke="#c8c050" stroke-width="1.1" fill="none"/><rect x="515.0" y="285.0" width="1" height="1" fill="#000"/><path d="M577.0 241.5L580.5 245.5L584.0 241.5M580.5 245.5V250.0" stroke="#c8c050" stroke-width="1.1" fill="none"/><rect x="580.0" y="245.0" width="1" height="1" fill="#000"/><path d="M225.0 241.5H232.0L225.0 247.5H232.0" stroke="#2fb0b8" stroke-width="1.1" fill="none"/><rect x="228.0" y="244.0" width="1" height="1" fill="#000"/><path d="M332.0 347.5H339.0L332.0 353.5H339.0" stroke="#2fb0b8" stroke-width="1.1" fill="none"/><rect x="335.0" y="350.0" width="1" height="1" fill="#000"/><path d="M394.0 246.5H401.0L394.0 252.5H401.0" stroke="#2fb0b8" stroke-width="1.1" fill="none"/><rect x="397.0" y="249.0" width="1" height="1" fill="#000"/><path d="M279.0 292.5H286.0L279.0 298.5H286.0" stroke="#2fb0b8" stroke-width="1.1" fill="none"/><rect x="282.0" y="295.0" width="1" height="1" fill="#000"/><path d="M328.0 147.5H335.0L328.0 153.5H335.0" stroke="#2fb0b8" stroke-width="1.1" fill="none"/><rect x="331.0" y="150.0" width="1" height="1" fill="#000"/><path d="M129.0 138.5H136.0L129.0 144.5H136.0" stroke="#2fb0b8" stroke-width="1.1" fill="none"/><rect x="132.0" y="141.0" width="1" height="1" fill="#000"/><path d="M267.0 119.5H274.0L267.0 125.5H274.0" stroke="#2fb0b8" stroke-width="1.1" fill="none"/><rect x="270.0" y="122.0" width="1" height="1" fill="#000"/><path d="M262.0 154.5H269.0L262.0 160.5H269.0" stroke="#2fb0b8" stroke-width="1.1" fill="none"/><rect x="265.0" y="157.0" width="1" height="1" fill="#000"/><path d="M299.0 255.5H306.0L299.0 261.5H306.0" stroke="#2fb0b8" stroke-width="1.1" fill="none"/><rect x="302.0" y="258.0" width="1" height="1" fill="#000"/><path d="M347.0 305.5H354.0L347.0 311.5H354.0" stroke="#2fb0b8" stroke-width="1.1" fill="none"/><rect x="350.0" y="308.0" width="1" height="1" fill="#000"/><path d="M342.0 320.5H349.0L342.0 326.5H349.0" stroke="#2fb0b8" stroke-width="1.1" fill="none"/><rect x="345.0" y="323.0" width="1" height="1" fill="#000"/><path d="M414.0 375.5H421.0L414.0 381.5H421.0" stroke="#2fb0b8" stroke-width="1.1" fill="none"/><rect x="417.0" y="378.0" width="1" height="1" fill="#000"/><path d="M455.0 84.5H462.0L455.0 90.5H462.0" stroke="#2fb0b8" stroke-width="1.1" fill="none"/><rect x="458.0" y="87.0" width="1" height="1" fill="#000"/><path d="M529.0 344.5H536.0L529.0 350.5H536.0" stroke="#2fb0b8" stroke-width="1.1" fill="none"/><rect x="532.0" y="347.0" width="1" height="1" fill="#000"/><path d="M575.0 346.5H582.0L575.0 352.5H582.0" stroke="#2fb0b8" stroke-width="1.1" fill="none"/><rect x="578.0" y="349.0" width="1" height="1" fill="#000"/><circle cx="318.5" cy="316.5" r="3.8" stroke="#cf40cf" stroke-width="1" fill="none"/><rect x="318.0" y="316.0" width="1" height="1" fill="#000"/><circle cx="382.5" cy="310.5" r="3.8" stroke="#cf40cf" stroke-width="1" fill="none"/><rect x="382.0" y="310.0" width="1" height="1" fill="#000"/><circle cx="376.5" cy="339.5" r="3.8" stroke="#cf40cf" stroke-width="1" fill="none"/><rect x="376.0" y="339.0" width="1" height="1" fill="#000"/><circle cx="265.5" cy="300.5" r="3.8" stroke="#cf40cf" stroke-width="1" fill="none"/><rect x="265.0" y="300.0" width="1" height="1" fill="#000"/><circle cx="195.5" cy="187.5" r="3.8" stroke="#cf40cf" stroke-width="1" fill="none"/><rect x="195.0" y="187.0" width="1" height="1" fill="#000"/><circle cx="222.5" cy="197.5" r="3.8" stroke="#cf40cf" stroke-width="1" fill="none"/><rect x="222.0" y="197.0" width="1" height="1" fill="#000"/><circle cx="289.5" cy="201.5" r="3.8" stroke="#cf40cf" stroke-width="1" fill="none"/><rect x="289.0" y="201.0" width="1" height="1" fill="#000"/><circle cx="390.5" cy="184.5" r="3.8" stroke="#cf40cf" stroke-width="1" fill="none"/><rect x="390.0" y="184.0" width="1" height="1" fill="#000"/><circle cx="318.5" cy="263.5" r="3.8" stroke="#cf40cf" stroke-width="1" fill="none"/><rect x="318.0" y="263.0" width="1" height="1" fill="#000"/><circle cx="223.5" cy="298.5" r="3.8" stroke="#cf40cf" stroke-width="1" fill="none"/><rect x="223.0" y="298.0" width="1" height="1" fill="#000"/><circle cx="250.5" cy="364.5" r="3.8" stroke="#cf40cf" stroke-width="1" fill="none"/><rect x="250.0" y="364.0" width="1" height="1" fill="#000"/><circle cx="422.5" cy="247.5" r="3.8" stroke="#cf40cf" stroke-width="1" fill="none"/><rect x="422.0" y="247.0" width="1" height="1" fill="#000"/><circle cx="513.5" cy="111.5" r="3.8" stroke="#cf40cf" stroke-width="1" fill="none"/><rect x="513.0" y="111.0" width="1" height="1" fill="#000"/><circle cx="533.5" cy="223.5" r="3.8" stroke="#cf40cf" stroke-width="1" fill="none"/><rect x="533.0" y="223.0" width="1" height="1" fill="#000"/><circle cx="579.5" cy="247.5" r="3.8" stroke="#cf40cf" stroke-width="1" fill="none"/><rect x="579.0" y="247.0" width="1" height="1" fill="#000"/><rect x="235.5" y="144.5" width="8" height="4" stroke="#8aa82a" stroke-width="1" fill="none"/><rect x="239.0" y="146.0" width="1" height="1" fill="#000"/><rect x="260.5" y="164.5" width="8" height="4" stroke="#8aa82a" stroke-width="1" fill="none"/><rect x="264.0" y="166.0" width="1" height="1" fill="#000"/><rect x="388.5" y="298.5" width="8" height="4" stroke="#8aa82a" stroke-width="1" fill="none"/><rect x="392.0" y="300.0" width="1" height="1" fill="#000"/><rect x="180.5" y="167.5" width="8" height="4" stroke="#8aa82a" stroke-width="1" fill="none"/><rect x="184.0" y="169.0" width="1" height="1" fill="#000"/><rect x="250.5" y="222.5" width="8" height="4" stroke="#8aa82a" stroke-width="1" fill="none"/><rect x="254.0" y="224.0" width="1" height="1" fill="#000"/><rect x="340.5" y="229.5" width="8" height="4" stroke="#8aa82a" stroke-width="1" fill="none"/><rect x="344.0" y="231.0" width="1" height="1" fill="#000"/><rect x="244.5" y="311.5" width="8" height="4" stroke="#8aa82a" stroke-width="1" fill="none"/><rect x="248.0" y="313.0" width="1" height="1" fill="#000"/><rect x="268.5" y="308.5" width="8" height="4" stroke="#8aa82a" stroke-width="1" fill="none"/><rect x="272.0" y="310.0" width="1" height="1" fill="#000"/><rect x="293.5" y="350.5" width="8" height="4" stroke="#8aa82a" stroke-width="1" fill="none"/><rect x="297.0" y="352.0" width="1" height="1" fill="#000"/><rect x="301.5" y="361.5" width="8" height="4" stroke="#8aa82a" stroke-width="1" fill="none"/><rect x="305.0" y="363.0" width="1" height="1" fill="#000"/><rect x="319.5" y="342.5" width="8" height="4" stroke="#8aa82a" stroke-width="1" fill="none"/><rect x="323.0" y="344.0" width="1" height="1" fill="#000"/><rect x="364.5" y="381.5" width="8" height="4" stroke="#8aa82a" stroke-width="1" fill="none"/><rect x="368.0" y="383.0" width="1" height="1" fill="#000"/><rect x="469.5" y="60.5" width="8" height="4" stroke="#8aa82a" stroke-width="1" fill="none"/><rect x="473.0" y="62.0" width="1" height="1" fill="#000"/><rect x="486.5" y="202.5" width="8" height="4" stroke="#8aa82a" stroke-width="1" fill="none"/><rect x="490.0" y="204.0" width="1" height="1" fill="#000"/><rect x="541.5" y="224.5" width="8" height="4" stroke="#8aa82a" stroke-width="1" fill="none"/><rect x="545.0" y="226.0" width="1" height="1" fill="#000"/><rect x="572.5" y="289.5" width="8" height="4" stroke="#8aa82a" stroke-width="1" fill="none"/><rect x="576.0" y="291.0" width="1" height="1" fill="#000"/><rect x="289.5" y="250.5" width="4" height="8" stroke="#2a8fc0" stroke-width="1" fill="none"/><rect x="291.0" y="254.0" width="1" height="1" fill="#000"/><rect x="336.5" y="302.5" width="4" height="8" stroke="#2a8fc0" stroke-width="1" fill="none"/><rect x="338.0" y="306.0" width="1" height="1" fill="#000"/><rect x="162.5" y="122.5" width="4" height="8" stroke="#2a8fc0" stroke-width="1" fill="none"/><rect x="164.0" y="126.0" width="1" height="1" fill="#000"/><rect x="242.5" y="160.5" width="4" height="8" stroke="#2a8fc0" stroke-width="1" fill="none"/><rect x="244.0" y="164.0" width="1" height="1" fill="#000"/><rect x="242.5" y="198.5" width="4" height="8" stroke="#2a8fc0" stroke-width="1" fill="none"/><rect x="244.0" y="202.0" width="1" height="1" fill="#000"/><rect x="251.5" y="244.5" width="4" height="8" stroke="#2a8fc0" stroke-width="1" fill="none"/><rect x="253.0" y="248.0" width="1" height="1" fill="#000"/><rect x="320.5" y="239.5" width="4" height="8" stroke="#2a8fc0" stroke-width="1" fill="none"/><rect x="322.0" y="243.0" width="1" height="1" fill="#000"/><rect x="370.5" y="272.5" width="4" height="8" stroke="#2a8fc0" stroke-width="1" fill="none"/><rect x="372.0" y="276.0" width="1" height="1" fill="#000"/><rect x="287.5" y="306.5" width="4" height="8" stroke="#2a8fc0" stroke-width="1" fill="none"/><rect x="289.0" y="310.0" width="1" height="1" fill="#000"/><rect x="321.5" y="340.5" width="4" height="8" stroke="#2a8fc0" stroke-width="1" fill="none"/><rect x="323.0" y="344.0" width="1" height="1" fill="#000"/><rect x="455.5" y="331.5" width="4" height="8" stroke="#2a8fc0" stroke-width="1" fill="none"/><rect x="457.0" y="335.0" width="1" height="1" fill="#000"/><rect x="434.5" y="152.5" width="4" height="8" stroke="#2a8fc0" stroke-width="1" fill="none"/><rect x="436.0" y="156.0" width="1" height="1" fill="#000"/><rect x="503.5" y="269.5" width="4" height="8" stroke="#2a8fc0" stroke-width="1" fill="none"/><rect x="505.0" y="273.0" width="1" height="1" fill="#000"/><rect x="527.5" y="292.5" width="4" height="8" stroke="#2a8fc0" stroke-width="1" fill="none"/><rect x="529.0" y="296.0" width="1" height="1" fill="#000"/><rect x="552.5" y="286.5" width="4" height="8" stroke="#2a8fc0" stroke-width="1" fill="none"/><rect x="554.0" y="290.0" width="1" height="1" fill="#000"/><rect x="248.5" y="256.5" width="4" height="8" stroke="#2a8fc0" stroke-width="1" fill="none"/><rect x="250.0" y="260.0" width="1" height="1" fill="#000"/><path d="M361.5 321.5V331.5M357.0 324.1L366.0 328.9M357.0 328.9L366.0 324.1" stroke="#db3a9a" stroke-width="1.1" fill="none"/><rect x="361.0" y="326.0" width="1" height="1" fill="#000"/><path d="M194.5 164.5V174.5M190.0 167.1L199.0 171.9M190.0 171.9L199.0 167.1" stroke="#db3a9a" stroke-width="1.1" fill="none"/><rect x="194.0" y="169.0" width="1" height="1" fill="#000"/><path d="M259.5 186.5V196.5M255.0 189.1L264.0 193.9M255.0 193.9L264.0 189.1" stroke="#db3a9a" stroke-width="1.1" fill="none"/><rect x="259.0" y="191.0" width="1" height="1" fill="#000"/><path d="M192.5 220.5V230.5M188.0 223.1L197.0 227.9M188.0 227.9L197.0 223.1" stroke="#db3a9a" stroke-width="1.1" fill="none"/><rect x="192.0" y="225.0" width="1" height="1" fill="#000"/><path d="M283.5 223.5V233.5M279.0 226.1L288.0 230.9M279.0 230.9L288.0 226.1" stroke="#db3a9a" stroke-width="1.1" fill="none"/><rect x="283.0" y="228.0" width="1" height="1" fill="#000"/><path d="M314.5 237.5V247.5M310.0 240.1L319.0 244.9M310.0 244.9L319.0 240.1" stroke="#db3a9a" stroke-width="1.1" fill="none"/><rect x="314.0" y="242.0" width="1" height="1" fill="#000"/><path d="M388.5 246.5V256.5M384.0 249.1L393.0 253.9M384.0 253.9L393.0 249.1" stroke="#db3a9a" stroke-width="1.1" fill="none"/><rect x="388.0" y="251.0" width="1" height="1" fill="#000"/><path d="M250.5 295.5V305.5M246.0 298.1L255.0 302.9M246.0 302.9L255.0 298.1" stroke="#db3a9a" stroke-width="1.1" fill="none"/><rect x="250.0" y="300.0" width="1" height="1" fill="#000"/><path d="M271.5 357.5V367.5M267.0 360.1L276.0 364.9M267.0 364.9L276.0 360.1" stroke="#db3a9a" stroke-width="1.1" fill="none"/><rect x="271.0" y="362.0" width="1" height="1" fill="#000"/><path d="M321.5 284.5V294.5M317.0 287.1L326.0 291.9M317.0 291.9L326.0 287.1" stroke="#db3a9a" stroke-width="1.1" fill="none"/><rect x="321.0" y="289.0" width="1" height="1" fill="#000"/><path d="M325.5 364.5V374.5M321.0 367.1L330.0 371.9M321.0 371.9L330.0 367.1" stroke="#db3a9a" stroke-width="1.1" fill="none"/><rect x="325.0" y="369.0" width="1" height="1" fill="#000"/><path d="M507.5 97.5V107.5M503.0 100.1L512.0 104.9M503.0 104.9L512.0 100.1" stroke="#db3a9a" stroke-width="1.1" fill="none"/><rect x="507.0" y="102.0" width="1" height="1" fill="#000"/><path d="M498.5 205.5V215.5M494.0 208.1L503.0 212.9M494.0 212.9L503.0 208.1" stroke="#db3a9a" stroke-width="1.1" fill="none"/><rect x="498.0" y="210.0" width="1" height="1" fill="#000"/><path d="M552.5 229.5V239.5M548.0 232.1L557.0 236.9M548.0 236.9L557.0 232.1" stroke="#db3a9a" stroke-width="1.1" fill="none"/><rect x="552.0" y="234.0" width="1" height="1" fill="#000"/><path d="M538.5 244.5V254.5M534.0 247.1L543.0 251.9M534.0 251.9L543.0 247.1" stroke="#db3a9a" stroke-width="1.1" fill="none"/><rect x="538.0" y="249.0" width="1" height="1" fill="#000"/><circle cx="326.5" cy="305.5" r="3.9" fill="#8a9a2a"/><rect x="326.0" y="305.0" width="1" height="1" fill="#000"/><circle cx="290.5" cy="316.5" r="3.9" fill="#8a9a2a"/><rect x="290.0" y="316.0" width="1" height="1" fill="#000"/><circle cx="218.5" cy="137.5" r="3.9" fill="#8a9a2a"/><rect x="218.0" y="137.0" width="1" height="1" fill="#000"/><circle cx="273.5" cy="150.5" r="3.9" fill="#8a9a2a"/><rect x="273.0" y="150.0" width="1" height="1" fill="#000"/><circle cx="195.5" cy="246.5" r="3.9" fill="#8a9a2a"/><rect x="195.0" y="246.0" width="1" height="1" fill="#000"/><circle cx="241.5" cy="273.5" r="3.9" fill="#8a9a2a"/><rect x="241.0" y="273.0" width="1" height="1" fill="#000"/><circle cx="240.5" cy="291.5" r="3.9" fill="#8a9a2a"/><rect x="240.0" y="291.0" width="1" height="1" fill="#000"/><circle cx="268.5" cy="341.5" r="3.9" fill="#8a9a2a"/><rect x="268.0" y="341.0" width="1" height="1" fill="#000"/><circle cx="351.5" cy="286.5" r="3.9" fill="#8a9a2a"/><rect x="351.0" y="286.0" width="1" height="1" fill="#000"/><circle cx="385.5" cy="248.5" r="3.9" fill="#8a9a2a"/><rect x="385.0" y="248.0" width="1" height="1" fill="#000"/><circle cx="484.5" cy="141.5" r="3.9" fill="#8a9a2a"/><rect x="484.0" y="141.0" width="1" height="1" fill="#000"/><circle cx="478.5" cy="187.5" r="3.9" fill="#8a9a2a"/><rect x="478.0" y="187.0" width="1" height="1" fill="#000"/><circle cx="565.5" cy="216.5" r="3.9" fill="#8a9a2a"/><rect x="565.0" y="216.0" width="1" height="1" fill="#000"/><circle cx="561.5" cy="264.5" r="3.9" fill="#8a9a2a"/><rect x="561.0" y="264.0" width="1" height="1" fill="#000"/><circle cx="385.5" cy="344.5" r="3.9" fill="#8a9a2a"/><rect x="385.0" y="344.0" width="1" height="1" fill="#000"/><rect x="284.0" y="214.0" width="9" height="5" fill="#5cbf8a"/><rect x="288.0" y="216.0" width="1" height="1" fill="#000"/><rect x="241.0" y="263.0" width="9" height="5" fill="#5cbf8a"/><rect x="245.0" y="265.0" width="1" height="1" fill="#000"/><rect x="392.0" y="279.0" width="9" height="5" fill="#5cbf8a"/><rect x="396.0" y="281.0" width="1" height="1" fill="#000"/><rect x="302.0" y="243.0" width="9" height="5" fill="#5cbf8a"/><rect x="306.0" y="245.0" width="1" height="1" fill="#000"/><rect x="238.0" y="328.0" width="9" height="5" fill="#5cbf8a"/><rect x="242.0" y="330.0" width="1" height="1" fill="#000"/><rect x="299.0" y="326.0" width="9" height="5" fill="#5cbf8a"/><rect x="303.0" y="328.0" width="1" height="1" fill="#000"/><rect x="158.0" y="163.0" width="9" height="5" fill="#5cbf8a"/><rect x="162.0" y="165.0" width="1" height="1" fill="#000"/><rect x="225.0" y="216.0" width="9" height="5" fill="#5cbf8a"/><rect x="229.0" y="218.0" width="1" height="1" fill="#000"/><rect x="362.0" y="303.0" width="9" height="5" fill="#5cbf8a"/><rect x="366.0" y="305.0" width="1" height="1" fill="#000"/><rect x="380.0" y="338.0" width="9" height="5" fill="#5cbf8a"/><rect x="384.0" y="340.0" width="1" height="1" fill="#000"/><rect x="478.0" y="189.0" width="9" height="5" fill="#5cbf8a"/><rect x="482.0" y="191.0" width="1" height="1" fill="#000"/><rect x="462.0" y="213.0" width="9" height="5" fill="#5cbf8a"/><rect x="466.0" y="215.0" width="1" height="1" fill="#000"/><rect x="556.0" y="243.0" width="9" height="5" fill="#5cbf8a"/><rect x="560.0" y="245.0" width="1" height="1" fill="#000"/><rect x="543.0" y="251.0" width="9" height="5" fill="#5cbf8a"/><rect x="547.0" y="253.0" width="1" height="1" fill="#000"/><rect x="339.0" y="254.0" width="9" height="5" fill="#5cbf8a"/><rect x="343.0" y="256.0" width="1" height="1" fill="#000"/><rect x="326.0" y="191.0" width="5" height="9" fill="#1e4a98"/><rect x="328.0" y="195.0" width="1" height="1" fill="#000"/><rect x="273.0" y="231.0" width="5" height="9" fill="#1e4a98"/><rect x="275.0" y="235.0" width="1" height="1" fill="#000"/><rect x="360.0" y="252.0" width="5" height="9" fill="#1e4a98"/><rect x="362.0" y="256.0" width="1" height="1" fill="#000"/><rect x="339.0" y="274.0" width="5" height="9" fill="#1e4a98"/><rect x="341.0" y="278.0" width="1" height="1" fill="#000"/><rect x="290.0" y="343.0" width="5" height="9" fill="#1e4a98"/><rect x="292.0" y="347.0" width="1" height="1" fill="#000"/><rect x="306.0" y="329.0" width="5" height="9" fill="#1e4a98"/><rect x="308.0" y="333.0" width="1" height="1" fill="#000"/><rect x="231.0" y="205.0" width="5" height="9" fill="#1e4a98"/><rect x="233.0" y="209.0" width="1" height="1" fill="#000"/><rect x="245.0" y="225.0" width="5" height="9" fill="#1e4a98"/><rect x="247.0" y="229.0" width="1" height="1" fill="#000"/><rect x="249.0" y="305.0" width="5" height="9" fill="#1e4a98"/><rect x="251.0" y="309.0" width="1" height="1" fill="#000"/><rect x="262.0" y="310.0" width="5" height="9" fill="#1e4a98"/><rect x="264.0" y="314.0" width="1" height="1" fill="#000"/><rect x="228.0" y="375.0" width="5" height="9" fill="#1e4a98"/><rect x="230.0" y="379.0" width="1" height="1" fill="#000"/><rect x="356.0" y="347.0" width="5" height="9" fill="#1e4a98"/><rect x="358.0" y="351.0" width="1" height="1" fill="#000"/><rect x="558.0" y="60.0" width="5" height="9" fill="#1e4a98"/><rect x="560.0" y="64.0" width="1" height="1" fill="#000"/><rect x="472.0" y="202.0" width="5" height="9" fill="#1e4a98"/><rect x="474.0" y="206.0" width="1" height="1" fill="#000"/><rect x="486.0" y="204.0" width="5" height="9" fill="#1e4a98"/><rect x="488.0" y="208.0" width="1" height="1" fill="#000"/><rect x="554.0" y="162.0" width="5" height="9" fill="#1e4a98"/><rect x="556.0" y="166.0" width="1" height="1" fill="#000"/><rect x="364.0" y="268.0" width="7" height="7" fill="#8a4aa0"/><rect x="367.0" y="271.0" width="1" height="1" fill="#000"/><rect x="270.0" y="287.0" width="7" height="7" fill="#8a4aa0"/><rect x="273.0" y="290.0" width="1" height="1" fill="#000"/><rect x="260.0" y="296.0" width="7" height="7" fill="#8a4aa0"/><rect x="263.0" y="299.0" width="1" height="1" fill="#000"/><rect x="192.0" y="120.0" width="7" height="7" fill="#8a4aa0"/><rect x="195.0" y="123.0" width="1" height="1" fill="#000"/><rect x="251.0" y="177.0" width="7" height="7" fill="#8a4aa0"/><rect x="254.0" y="180.0" width="1" height="1" fill="#000"/><rect x="216.0" y="199.0" width="7" height="7" fill="#8a4aa0"/><rect x="219.0" y="202.0" width="1" height="1" fill="#000"/><rect x="255.0" y="224.0" width="7" height="7" fill="#8a4aa0"/><rect x="258.0" y="227.0" width="1" height="1" fill="#000"/><rect x="333.0" y="256.0" width="7" height="7" fill="#8a4aa0"/><rect x="336.0" y="259.0" width="1" height="1" fill="#000"/><rect x="304.0" y="354.0" width="7" height="7" fill="#8a4aa0"/><rect x="307.0" y="357.0" width="1" height="1" fill="#000"/><rect x="240.0" y="374.0" width="7" height="7" fill="#8a4aa0"/><rect x="243.0" y="377.0" width="1" height="1" fill="#000"/><rect x="380.0" y="345.0" width="7" height="7" fill="#8a4aa0"/><rect x="383.0" y="348.0" width="1" height="1" fill="#000"/><rect x="407.0" y="384.0" width="7" height="7" fill="#8a4aa0"/><rect x="410.0" y="387.0" width="1" height="1" fill="#000"/><rect x="509.0" y="55.0" width="7" height="7" fill="#8a4aa0"/><rect x="512.0" y="58.0" width="1" height="1" fill="#000"/><rect x="451.0" y="216.0" width="7" height="7" fill="#8a4aa0"/><rect x="454.0" y="219.0" width="1" height="1" fill="#000"/><rect x="575.0" y="215.0" width="7" height="7" fill="#8a4aa0"/><rect x="578.0" y="218.0" width="1" height="1" fill="#000"/><rect x="515.0" y="262.0" width="7" height="7" fill="#8a4aa0"/><rect x="518.0" y="265.0" width="1" height="1" fill="#000"/></g><rect x="69.5" y="32.5" width="559.0" height="447.0" fill="none" stroke="#000" stroke-width="1"/><line x1="63" y1="32.5" x2="69.5" y2="32.5" stroke="#8c8c8c" stroke-width="1"/><text x="60.6" y="37" font-size="12" text-anchor="end" fill="#000">8</text><line x1="63" y1="88.5" x2="69.5" y2="88.5" stroke="#8c8c8c" stroke-width="1"/><text x="60.6" y="93" font-size="12" text-anchor="end" fill="#000">6</text><line x1="63" y1="144.5" x2="69.5" y2="144.5" stroke="#8c8c8c" stroke-width="1"/><text x="60.6" y="149" font-size="12" text-anchor="end" fill="#000">4</text><line x1="63" y1="200.5" x2="69.5" y2="200.5" stroke="#8c8c8c" stroke-width="1"/><text x="60.6" y="205" font-size="12" text-anchor="end" fill="#000">2</text><line x1="63" y1="255.5" x2="69.5" y2="255.5" stroke="#e5173f" stroke-width="1"/><text x="60.6" y="260" font-size="12" text-anchor="end" fill="#000">0</text><line x1="63" y1="311.5" x2="69.5" y2="311.5" stroke="#8c8c8c" stroke-width="1"/><text x="60.6" y="316" font-size="12" text-anchor="end" fill="#000">-2</text><line x1="63" y1="367.5" x2="69.5" y2="367.5" stroke="#8c8c8c" stroke-width="1"/><text x="60.6" y="372" font-size="12" text-anchor="end" fill="#000">-4</text><line x1="63" y1="423.5" x2="69.5" y2="423.5" stroke="#8c8c8c" stroke-width="1"/><text x="60.6" y="428" font-size="12" text-anchor="end" fill="#000">-6</text><line x1="63" y1="479.5" x2="69.5" y2="479.5" stroke="#8c8c8c" stroke-width="1"/><text x="60.6" y="484" font-size="12" text-anchor="end" fill="#000">-8</text><line x1="69.5" y1="479.5" x2="69.5" y2="486" stroke="#8c8c8c" stroke-width="1"/><text x="69.0" y="498" font-size="12" text-anchor="middle" fill="#000">-10</text><line x1="209.5" y1="479.5" x2="209.5" y2="486" stroke="#8c8c8c" stroke-width="1"/><text x="209.0" y="498" font-size="12" text-anchor="middle" fill="#000">-5</text><line x1="349.5" y1="479.5" x2="349.5" y2="486" stroke="#e5173f" stroke-width="1"/><text x="349.0" y="498" font-size="12" text-anchor="middle" fill="#000">0</text><line x1="489.5" y1="479.5" x2="489.5" y2="486" stroke="#8c8c8c" stroke-width="1"/><text x="489.0" y="498" font-size="12" text-anchor="middle" fill="#000">5</text><line x1="628.5" y1="479.5" x2="628.5" y2="486" stroke="#8c8c8c" stroke-width="1"/><text x="628.0" y="498" font-size="12" text-anchor="middle" fill="#000">10</text><line x1="139.5" y1="479.5" x2="139.5" y2="483" stroke="#8c8c8c" stroke-width="1"/><line x1="279.5" y1="479.5" x2="279.5" y2="483" stroke="#8c8c8c" stroke-width="1"/><line x1="419.5" y1="479.5" x2="419.5" y2="483" stroke="#8c8c8c" stroke-width="1"/><line x1="559.5" y1="479.5" x2="559.5" y2="483" stroke="#8c8c8c" stroke-width="1"/><text x="348.8" y="513.5" font-size="11.5" text-anchor="middle" fill="#000" xml:space="preserve">Dim 1  (43.5 %)</text><text transform="translate(32.6,254.7) rotate(-90)" font-size="11.5" text-anchor="middle" fill="#000" xml:space="preserve">Dim 2  (17.5 %)</text><text x="649.5" y="42.9" font-size="11.4" fill="#000">Legend</text><circle cx="657.5" cy="57.5" r="2.6" fill="#d63a55"/><text x="668.5" y="61.8" font-size="11.3" fill="#000">Susan Fruity etc.</text><path d="M652.5 72.5H662.5M657.5 67.5V77.5" stroke="#2aa02e" stroke-width="1" fill="none"/><text x="668.5" y="76.8" font-size="11.3" fill="#000">Florence Flowery etc.</text><path d="M653.7 83.7L661.3 91.3M661.3 83.7L653.7 91.3" stroke="#5b7fe0" stroke-width="1" fill="none"/><text x="668.5" y="91.8" font-size="11.3" fill="#000">Xavier Fruity etc.</text><rect x="654.5" y="99.5" width="6" height="6" stroke="#d06a1e" stroke-width="1" fill="none"/><text x="668.5" y="106.8" font-size="11.3" fill="#000">Robert Fruity etc.</text><path d="M657.5 113.0L662.0 117.5L657.5 122.0L653.0 117.5Z" stroke="#45c29b" stroke-width="1" fill="none"/><text x="668.5" y="121.8" font-size="11.3" fill="#000">Paula Fruity etc.</text><path d="M657.5 128.0L661.5 136.0L653.5 136.0Z" stroke="#a642e0" stroke-width="1.1" fill="none"/><text x="668.5" y="136.8" font-size="11.3" fill="#000">Monica Fruity etc.</text><path d="M654.0 143.5L657.5 147.5L661.0 143.5M657.5 147.5V152.0" stroke="#c8c050" stroke-width="1.1" fill="none"/><text x="668.5" y="151.8" font-size="11.3" fill="#000">Frank Fruity etc.</text><path d="M654.0 159.5H661.0L654.0 165.5H661.0" stroke="#2fb0b8" stroke-width="1.1" fill="none"/><text x="668.5" y="166.8" font-size="11.3" fill="#000">Greg Flowery etc.</text><circle cx="657.5" cy="177.5" r="3.8" stroke="#cf40cf" stroke-width="1" fill="none"/><text x="668.5" y="181.8" font-size="11.3" fill="#000">Emily Fruity etc.</text><rect x="653.5" y="190.5" width="8" height="4" stroke="#8aa82a" stroke-width="1" fill="none"/><text x="668.5" y="196.8" font-size="11.3" fill="#000">Marcela Fruity etc.</text><rect x="655.5" y="203.5" width="4" height="8" stroke="#2a8fc0" stroke-width="1" fill="none"/><text x="668.5" y="211.8" font-size="11.3" fill="#000">Stephan Fruity etc.</text><path d="M657.5 217.5V227.5M653.0 220.1L662.0 224.9M653.0 224.9L662.0 220.1" stroke="#db3a9a" stroke-width="1.1" fill="none"/><text x="668.5" y="226.8" font-size="11.3" fill="#000">Martin Fruity etc.</text><circle cx="657.5" cy="237.5" r="3.9" fill="#8a9a2a"/><text x="668.5" y="241.8" font-size="11.3" fill="#000">Phil Flowery etc.</text><rect x="653.0" y="250.0" width="9" height="5" fill="#5cbf8a"/><text x="668.5" y="256.8" font-size="11.3" fill="#000">Paolo Fruity etc.</text><rect x="655.0" y="263.0" width="5" height="9" fill="#1e4a98"/><text x="668.5" y="271.8" font-size="11.3" fill="#000">Amanda Fruity etc.</text><rect x="654.0" y="279.0" width="7" height="7" fill="#8a4aa0"/><text x="668.5" y="286.8" font-size="11.3" fill="#000">Jose Fruity etc.</text><circle cx="657.5" cy="297.9" r="3.9" fill="#000"/><text x="668.5" y="301.8" font-size="11.3" fill="#000">Centroid Score</text><text x="16.2" y="543.1" font-size="11.8" fill="#000">Select component</text><defs><linearGradient id="g118" x1="0" y1="0" x2="0" y2="1"><stop offset="0" stop-color="#f2f2f2"/><stop offset="1" stop-color="#e5e5e5"/></linearGradient></defs><rect x="118.5" y="532.5" width="106" height="20" fill="url(#g118)" stroke="#acacac" stroke-width="1"/><text x="124.5" y="547" font-size="11.9" fill="#000">Component 1</text><path d="M212.5 540.5L215.5 543.5L218.5 540.5" stroke="#6a6a6a" stroke-width="1" fill="none"/><defs><linearGradient id="g232" x1="0" y1="0" x2="0" y2="1"><stop offset="0" stop-color="#f2f2f2"/><stop offset="1" stop-color="#e5e5e5"/></linearGradient></defs><rect x="232.5" y="532.5" width="106" height="20" fill="url(#g232)" stroke="#acacac" stroke-width="1"/><text x="238.5" y="547" font-size="11.9" fill="#000">Component 2</text><path d="M326.5 540.5L329.5 543.5L332.5 540.5" stroke="#6a6a6a" stroke-width="1" fill="none"/><rect x="351.5" y="528.5" width="21" height="19" fill="#e1e1e1" stroke="#6f6f6f" stroke-width="1"/><path d="M355.6 534.1H358.4V530L365.7 537.3L358.4 544.5V540.7H355.6Z" fill="#000"/></svg></body></html>
